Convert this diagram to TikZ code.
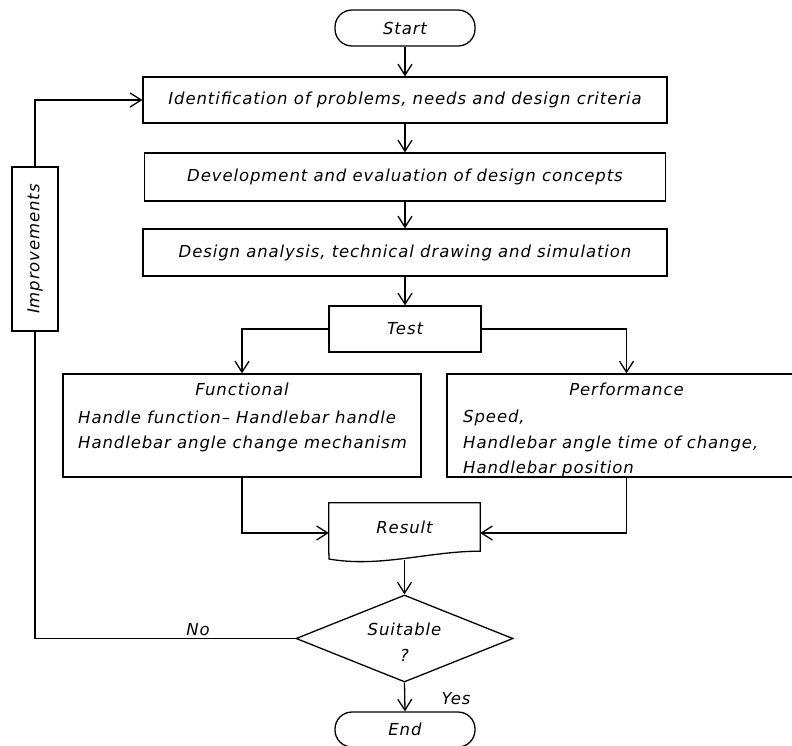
\documentclass[tikz,border=0pt]{standalone}
\usepackage{fontspec}
\setmainfont{DejaVu Sans}[LetterSpace=5.5]
\usetikzlibrary{arrows.meta,shapes.geometric}
\tikzset{
  lbl/.style={font=\itshape\fontsize{16.5}{26}\selectfont, inner sep=0pt},
  box/.style={draw, line width=1.3pt, rectangle, inner sep=0pt, lbl},
  term/.style={box, rounded corners=17pt},
  ln/.style={line width=1.3pt},
  arr/.style={ln, -{Straight Barb[length=11pt,width=14pt,line width=1.3pt]}},
}
\begin{document}
\begin{tikzpicture}[x=1pt,y=-1pt]
\useasboundingbox (0,0) rectangle (792,745);
\node[term, minimum width=140pt, minimum height=36pt] (start) at (405,28) {Start};
\node[box, minimum width=524pt, minimum height=46pt] (b1) at (405,100) {Identification of problems, needs and design criteria};
\node[box, minimum width=521pt, minimum height=48pt] (b2) at (405,177) {Development and evaluation of design concepts};
\node[box, minimum width=524pt, minimum height=47pt] (b3) at (405,252.5) {Design analysis, technical drawing and simulation};
\node[box, minimum width=152pt, minimum height=46pt] (test) at (405,329) {Test};
\node[box, minimum width=358pt, minimum height=103pt] (func) at (242,425.5) {};
\node[box, minimum width=359pt, minimum height=103pt] (perf) at (626.5,425.5) {};
\node[lbl, anchor=base] at (242,395) {Functional};
\node[lbl, anchor=base west] at (78,423) {Handle function– Handlebar handle};
\node[lbl, anchor=base west] at (78,448) {Handlebar angle change mechanism};
\node[lbl, anchor=base] at (626.5,395) {Performance};
\node[lbl, anchor=base west] at (463,422) {Speed,};
\node[lbl, anchor=base west] at (463,448) {Handlebar angle time of change,};
\node[lbl, anchor=base west] at (463,473) {Handlebar position};
\node[lbl, minimum width=151pt, minimum height=48pt] (result) at (404.5,527) {Result};
\draw[ln] (result.south west) -- (result.north west) -- (result.north east) -- (result.south east)
  .. controls (430,551) and (380,568) .. (329,559) -- (result.south west);
\coordinate (rb) at (404.5,560);
\node[draw, diamond, line width=1.3pt, inner sep=0pt, minimum width=217pt, minimum height=87pt] (dia) at (404.5,638.5) {};
\node[lbl] at (404.5,629) {Suitable};
\node[lbl] at (404.5,655) {?};
\node[term, minimum width=140pt, minimum height=35pt] (end) at (405,729.5) {End};
\node[box, minimum width=46pt, minimum height=164pt] (impr) at (35,249) {\rotatebox{90}{Improvements}};
\node[lbl] (no) at (198,630) {No};
\node[lbl] (yes) at (456,699) {Yes};
\draw[arr] (start) -- (b1);
\draw[arr] (b1) -- (b2);
\draw[arr] (b2) -- (b3);
\draw[arr] (b3) -- (test);
\draw[arr] (test.west) -| (func.north);
\draw[arr] (test.east) -| (perf.north);
\draw[arr] (func.south) |- ([yshift=-6pt]result.west);
\draw[arr] (perf.south) |- ([yshift=-6pt]result.east);
\draw[arr] (rb) -- (dia.north);
\draw[arr] (dia.south) -- (end.north);
\draw[ln] (dia.west) -| (impr.south);
\draw[arr] (impr.north) |- (b1.west);
\end{tikzpicture}
\end{document}
